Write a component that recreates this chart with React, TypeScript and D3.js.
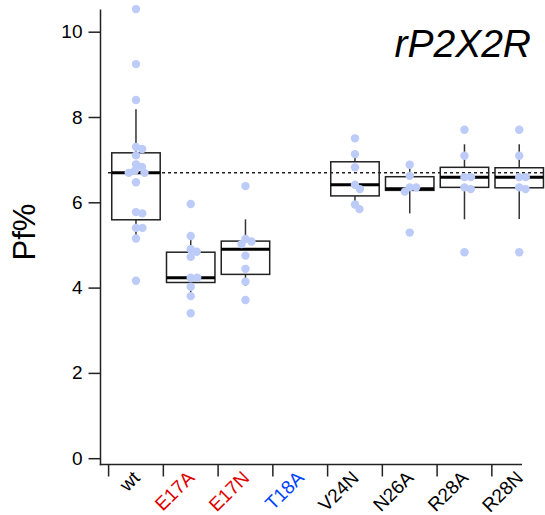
import React, { useEffect, useRef } from "react";
import * as d3 from "d3";

const categories = ["wt", "E17A", "E17N", "T18A", "V24N", "N26A", "R28A", "R28N"];
const labelColors = ["#000", "#e00000", "#e00000", "#0044ff", "#000", "#000", "#000", "#000"];

// individual measurements (Pf%)
const points: number[][] = [
  [10.53, 9.24, 8.4, 7.3, 7.25, 7.1, 6.89, 6.83, 6.74, 6.69, 6.69, 6.47, 5.77, 5.74, 5.4, 5.4, 5.15, 4.16],
  [5.96, 5.21, 4.9, 4.84, 4.72, 4.23, 4.23, 4.02, 3.8, 3.4],
  [6.38, 5.14, 5.08, 5.02, 4.75, 4.44, 4.14, 3.71],
  [],
  [7.5, 7.13, 6.82, 6.41, 6.31, 5.95, 5.84],
  [6.88, 6.62, 6.35, 6.35, 6.25, 5.29],
  [7.7, 7.09, 6.59, 6.59, 6.35, 6.31, 4.83],
  [7.7, 7.09, 6.59, 6.59, 6.35, 6.31, 4.83],
];

// box stats: [whiskerLow, q1, median, q3, whiskerHigh]
const boxStats: (number[] | null)[] = [
  [5.21, 5.59, 6.69, 7.16, 8.18],
  [3.78, 4.12, 4.23, 4.83, 5.21],
  [4.04, 4.31, 4.9, 5.09, 5.6],
  null,
  [5.96, 6.15, 6.41, 6.95, 7.19],
  [5.74, 6.28, 6.32, 6.6, 6.82],
  [5.6, 6.35, 6.59, 6.82, 7.36],
  [5.61, 6.34, 6.59, 6.81, 7.36],
];

const refLine = 6.69;
const yTicks = [0, 2, 4, 6, 8, 10];

// simple beeswarm: smallest |offset| that keeps dots apart
function swarm(values: number[], y: (v: number) => number, diam: number) {
  const placed: { x: number; y: number }[] = [];
  const out: { v: number; dx: number }[] = [];
  values.forEach((v) => {
    const py = y(v);
    const cands = [0];
    placed.forEach((p) => {
      const dy = Math.abs(p.y - py);
      if (dy < diam) {
        const w = Math.sqrt(diam * diam - dy * dy);
        cands.push(p.x + w, p.x - w);
      }
    });
    cands.sort((a, b) => Math.abs(a) - Math.abs(b));
    const ok = cands.find((cx) =>
      placed.every((p) => (p.x - cx) ** 2 + (p.y - py) ** 2 >= diam * diam - 0.01)
    );
    const dx = ok === undefined ? 0 : ok;
    placed.push({ x: dx, y: py });
    out.push({ v, dx });
  });
  return out;
}

const App = () => {
  const svgRef = useRef<SVGSVGElement>(null);

  useEffect(() => {
    const width = 545;
    const height = 515;
    const font = "'Liberation Sans', Arial, sans-serif";

    const svg = d3
      .select(svgRef.current)
      .attr("width", width)
      .attr("height", height)
      .style("font-family", font)
      .style("background", "#fff");

    svg.selectAll("*").remove();

    const x = d3.scaleBand().domain(categories).range([108.6, 546.6]).padding(0);
    const y = d3.scaleLinear().domain([0, 10]).range([458.2, 31.7]);
    const bw = x.bandwidth();
    const boxW = bw * 0.885;
    const axisX = 100.5;
    const axisY = 464.5;
    const ink = "#222";

    // y axis
    const yAxis = svg
      .append("g")
      .attr("transform", `translate(${axisX},0)`)
      .call(d3.axisLeft(y).tickValues(yTicks).tickSize(12).tickPadding(6).tickFormat(d3.format("d")));
    yAxis.select(".domain").remove();
    yAxis.selectAll("line").attr("stroke", ink).attr("stroke-width", 1.5);
    yAxis
      .selectAll("text")
      .attr("fill", "#000")
      .style("font-size", "19px")
      .style("font-family", font);

    svg
      .append("line")
      .attr("x1", axisX)
      .attr("x2", axisX)
      .attr("y1", y(10.52))
      .attr("y2", axisY + 0.75)
      .attr("stroke", ink)
      .attr("stroke-width", 1.5);

    // x axis
    svg
      .append("line")
      .attr("x1", axisX - 0.75)
      .attr("x2", 522)
      .attr("y1", axisY)
      .attr("y2", axisY)
      .attr("stroke", ink)
      .attr("stroke-width", 1.5);

    svg
      .append("g")
      .selectAll("line")
      .data(categories)
      .join("line")
      .attr("x1", (d) => x(d)!)
      .attr("x2", (d) => x(d)!)
      .attr("y1", axisY)
      .attr("y2", axisY + 12)
      .attr("stroke", ink)
      .attr("stroke-width", 1.5);

    svg
      .append("g")
      .selectAll("text")
      .data(categories)
      .join("text")
      .attr("transform", (d) => `translate(${x(d)! + bw / 2 + 5},479) rotate(-45)`)
      .attr("text-anchor", "end")
      .attr("fill", (d, i) => labelColors[i])
      .style("font-size", "19px")
      .text((d) => d);

    // reference (wt median) line
    svg
      .append("line")
      .attr("x1", 108)
      .attr("x2", 543)
      .attr("y1", y(refLine))
      .attr("y2", y(refLine))
      .attr("stroke", ink)
      .attr("stroke-width", 1.5)
      .attr("stroke-dasharray", "3,3");

    // boxes
    const boxes = svg.append("g");
    categories.forEach((c, i) => {
      const s = boxStats[i];
      if (!s) return;
      const cx = x(c)! + bw / 2;
      const [lo, q1, med, q3, hi] = s;
      boxes
        .append("line")
        .attr("x1", cx)
        .attr("x2", cx)
        .attr("y1", y(hi))
        .attr("y2", y(q3))
        .attr("stroke", "#333")
        .attr("stroke-width", 1.5);
      boxes
        .append("line")
        .attr("x1", cx)
        .attr("x2", cx)
        .attr("y1", y(q1))
        .attr("y2", y(lo))
        .attr("stroke", "#333")
        .attr("stroke-width", 1.5);
      boxes
        .append("rect")
        .attr("x", cx - boxW / 2)
        .attr("y", y(q3))
        .attr("width", boxW)
        .attr("height", y(q1) - y(q3))
        .attr("fill", "none")
        .attr("stroke", ink)
        .attr("stroke-width", 1.5);
      boxes
        .append("line")
        .attr("x1", cx - boxW / 2)
        .attr("x2", cx + boxW / 2)
        .attr("y1", y(med))
        .attr("y2", y(med))
        .attr("stroke", "#000")
        .attr("stroke-width", 3);
    });

    // dots
    const dots = svg.append("g");
    categories.forEach((c, i) => {
      const cx = x(c)! + bw / 2;
      dots
        .selectAll(`circle.g${i}`)
        .data(swarm(points[i], y, 6.5))
        .join("circle")
        .attr("class", `g${i}`)
        .attr("cx", (d) => cx + d.dx)
        .attr("cy", (d) => y(d.v))
        .attr("r", 4.2)
        .attr("fill", "#bccbf8");
    });

    // title
    svg
      .append("text")
      .attr("x", 531)
      .attr("y", 56.5)
      .attr("text-anchor", "end")
      .style("font-size", "39px")
      .style("font-style", "italic")
      .text("rP2X2R");

    // y label
    svg
      .append("text")
      .attr("transform", "translate(35,232) rotate(-90)")
      .attr("text-anchor", "middle")
      .style("font-size", "31px")
      .text("Pf%");
  }, []);

  return (
    <svg
      ref={svgRef}
      style={{ display: "block", position: "absolute", left: 0, top: 0 }}
    ></svg>
  );
};

export default App;
